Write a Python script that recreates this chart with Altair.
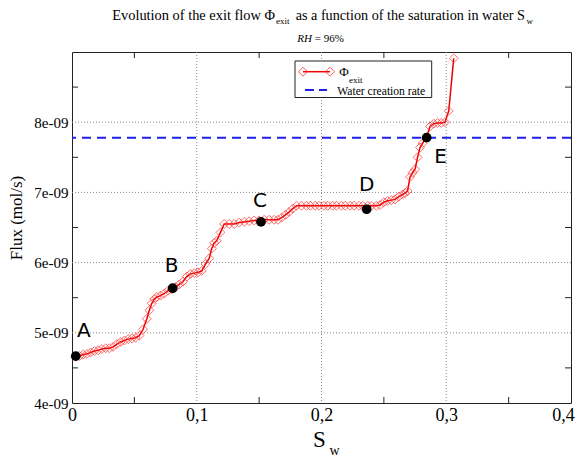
import altair as alt
import pandas as pd

# ---------------- data ----------------
# saturation in water S_w
sw = [0.003, 0.006, 0.009, 0.012, 0.015, 0.018, 0.021, 0.024, 0.027, 0.030,
      0.033, 0.036, 0.039, 0.042, 0.045, 0.048, 0.051, 0.054, 0.057, 0.060,
      0.062, 0.064, 0.066, 0.068, 0.071, 0.074, 0.077, 0.080, 0.083, 0.086,
      0.089, 0.092, 0.095, 0.098, 0.101, 0.104, 0.107, 0.110, 0.112, 0.114,
      0.116, 0.119, 0.122, 0.126, 0.130, 0.134, 0.138, 0.142, 0.146, 0.150,
      0.154, 0.158, 0.162, 0.165, 0.168, 0.171, 0.174, 0.177, 0.180, 0.184,
      0.188, 0.191, 0.195, 0.198, 0.202, 0.205, 0.209, 0.212, 0.216, 0.219,
      0.223, 0.226, 0.230, 0.233, 0.237, 0.240, 0.244, 0.247, 0.250, 0.253,
      0.256, 0.259, 0.262, 0.265, 0.267, 0.269, 0.271, 0.273, 0.275, 0.277,
      0.279, 0.281, 0.284, 0.287, 0.290, 0.293, 0.296, 0.299, 0.302, 0.306]
# exit flow, in units of 1e-09 mol/s
flux = [4.66, 4.67, 4.69, 4.70, 4.72, 4.74, 4.75, 4.77, 4.78, 4.78,
        4.80, 4.84, 4.87, 4.89, 4.91, 4.92, 4.93, 4.96, 5.05, 5.20,
        5.32, 5.42, 5.48, 5.51, 5.53, 5.56, 5.60, 5.62, 5.65, 5.69,
        5.73, 5.80, 5.84, 5.85, 5.86, 5.88, 5.98, 6.06, 6.20, 6.28,
        6.31, 6.43, 6.55, 6.55, 6.55, 6.57, 6.58, 6.59, 6.60, 6.60,
        6.61, 6.61, 6.61, 6.61, 6.64, 6.68, 6.72, 6.77, 6.81, 6.81,
        6.81, 6.81, 6.81, 6.81, 6.81, 6.81, 6.81, 6.81, 6.81, 6.81,
        6.81, 6.81, 6.81, 6.81, 6.81, 6.81, 6.81, 6.82, 6.86, 6.88,
        6.89, 6.90, 6.94, 6.97, 6.99, 7.02, 7.22, 7.28, 7.33, 7.50,
        7.64, 7.70, 7.78, 7.94, 7.98, 7.99, 7.99, 8.00, 8.16, 8.91]

point_labels = ["A", "B", "C", "D", "E"]
point_sw = [0.003, 0.0807, 0.1515, 0.2362, 0.2843]
point_flux = [4.667, 5.635, 6.58, 6.76, 7.78]

water_creation_rate = 7.78  # 1e-09 mol/s

x_label_values = [0, 0.1, 0.2, 0.3, 0.4]
y_label_values = [4, 5, 6, 7, 8]
x_grid_values = [0.1, 0.2, 0.3]
y_grid_values = [5, 6, 7, 8]
x_minor_ticks = [0.05, 0.15, 0.25, 0.35]
y_minor_ticks = [4.5, 5.5, 6.5, 7.5, 8.5]

# ---------------- layout / style ----------------
W, H = 499, 351
SERIF = "Liberation Serif, Times New Roman, DejaVu Serif, serif"
SANS = "DejaVu Sans"
RED = "#ee0000"
BLUE = "#1f1fe6"

label_offsets = {"A": (8, -25), "B": (-1, -22), "C": (-1, -21),
                 "D": (0, -24), "E": (14, 19)}

xs = alt.Scale(domain=[0, 0.4], nice=False, zero=False)
ys = alt.Scale(domain=[4, 9], nice=False, zero=False)

x_axis = alt.Axis(values=x_label_values,
                  labelExpr="datum.value == 0 ? '0' : replace(format(datum.value, '.1f'), '.', ',')",
                  labelOffset={"condition": {"test": "datum.value > 0.35", "value": -8}, "value": 0},
                  grid=False, ticks=False, domain=False, labelFont=SERIF,
                  labelFontSize=18, labelColor="black", labelPadding=3,
                  labelFlush=False, labelOverlap=False, labelBound=False, title=None)
y_axis = alt.Axis(values=y_label_values, labelExpr="datum.value + 'e-09'",
                  grid=False, ticks=False, domain=False, labelFont=SERIF,
                  labelFontSize=15, labelColor="black", labelPadding=4,
                  labelOverlap=False, title=None)

X = lambda: alt.X("sw:Q", scale=xs, axis=x_axis)
Y = lambda: alt.Y("flux:Q", scale=ys, axis=y_axis)

one = alt.Data(values=[{"k": 1}])


def txt(text, x, y, size, font=SERIF, style="normal", align="left",
        baseline="alphabetic", angle=0, color="black"):
    return alt.Chart(one).mark_text(
        text=text, font=font, fontSize=size, fontStyle=style, align=align,
        baseline=baseline, angle=angle, color=color
    ).encode(x=alt.value(x), y=alt.value(y))


curve_df = pd.DataFrame({"sw": sw, "flux": flux})
pts_df = pd.DataFrame({"sw": point_sw, "flux": point_flux, "label": point_labels})

layers = []

# grid
layers.append(alt.Chart(pd.DataFrame({"sw": x_grid_values})).mark_rule(
    color="#8a8a8a", strokeDash=[1, 2], strokeWidth=1).encode(x=X()))
layers.append(alt.Chart(pd.DataFrame({"flux": y_grid_values})).mark_rule(
    color="#8a8a8a", strokeDash=[1, 2], strokeWidth=1).encode(y=Y()))

# inward minor ticks on the four sides
xt = pd.DataFrame({"sw": x_minor_ticks})
yt = pd.DataFrame({"flux": y_minor_ticks})
layers.append(alt.Chart(xt).mark_rule(color="#222").encode(
    x=X(), y=alt.value(H), y2=alt.value(H - 6)))
layers.append(alt.Chart(xt).mark_rule(color="#222").encode(
    x=X(), y=alt.value(0), y2=alt.value(6)))
layers.append(alt.Chart(yt).mark_rule(color="#222").encode(
    y=Y(), x=alt.value(0), x2=alt.value(6)))
layers.append(alt.Chart(yt).mark_rule(color="#222").encode(
    y=Y(), x=alt.value(W), x2=alt.value(W - 6)))

# water creation rate
layers.append(alt.Chart(pd.DataFrame({"flux": [water_creation_rate]})).mark_rule(
    color=BLUE, strokeWidth=2, strokeDash=[9, 6]).encode(y=Y()))

# exit flow curve
layers.append(alt.Chart(curve_df).mark_line(color=RED, strokeWidth=1.5).encode(x=X(), y=Y()))
layers.append(alt.Chart(curve_df).mark_point(
    shape="diamond", filled=False, color="#ff3030", size=80, strokeWidth=1,
    opacity=0.7).encode(x=X(), y=Y()))

# labelled points
layers.append(alt.Chart(pts_df).mark_circle(color="black", size=95, opacity=1).encode(x=X(), y=Y()))
for lab, (dx, dy) in label_offsets.items():
    layers.append(alt.Chart(pts_df).transform_filter(
        alt.datum.label == lab).mark_text(
        font=SANS, fontSize=20, color="black", dx=dx, dy=dy,
        align="center", baseline="middle").encode(x=X(), y=Y(), text="label:N"))

# legend
layers.append(alt.Chart(one).mark_rect(fill="white", stroke="#222", strokeWidth=1).encode(
    x=alt.value(223), x2=alt.value(359.7), y=alt.value(9), y2=alt.value(45.5)))
layers.append(alt.Chart(one).mark_rule(color=RED, strokeWidth=1.5).encode(
    x=alt.value(231), x2=alt.value(258), y=alt.value(19.7)))
for lx in (231, 258):
    layers.append(alt.Chart(one).mark_point(
        shape="diamond", filled=False, color="#ff3030", size=80, strokeWidth=1,
        opacity=0.8).encode(x=alt.value(lx), y=alt.value(19.7)))
layers.append(alt.Chart(one).mark_rule(color=BLUE, strokeWidth=2, strokeDash=[9, 5]).encode(
    x=alt.value(233), x2=alt.value(255), y=alt.value(38)))
layers.append(txt("\u03a6", 267.3, 24, 13))
layers.append(txt("exit", 277, 31, 9))
layers.append(txt("Water creation rate", 265.3, 43, 11.6))

# title and subtitle (pieces right-aligned so the subscripts follow them)
layers.append(txt("Evolution of the exit flow \u03a6", 203, -32, 14.4, align="right"))
layers.append(txt("exit", 204, -28, 9))
layers.append(txt("as a function of the saturation in water S", 453, -32, 14.2, align="right"))
layers.append(txt("w", 454.5, -28, 9))
layers.append(txt("RH", 225.3, -10, 11, style="italic"))
layers.append(txt("= 96%", 242.7, -10, 11))

# axis titles
layers.append(txt("Flux (mol/s)", -55.3, 166, 17, align="center", baseline="middle", angle=270))
layers.append(txt("S", 247.5, 388, 23, align="center", baseline="middle"))
layers.append(txt("w", 262.5, 399, 14, align="center", baseline="middle"))

chart = alt.layer(*layers).properties(
    width=W, height=H,
    padding={"left": 64, "top": 44, "right": 4, "bottom": 57},
    autosize=alt.AutoSizeParams(type="none"),
    background="white",
).configure_view(stroke="#222", strokeWidth=1)

chart.save("out.html", embed_options={"renderer": "svg", "actions": False})
